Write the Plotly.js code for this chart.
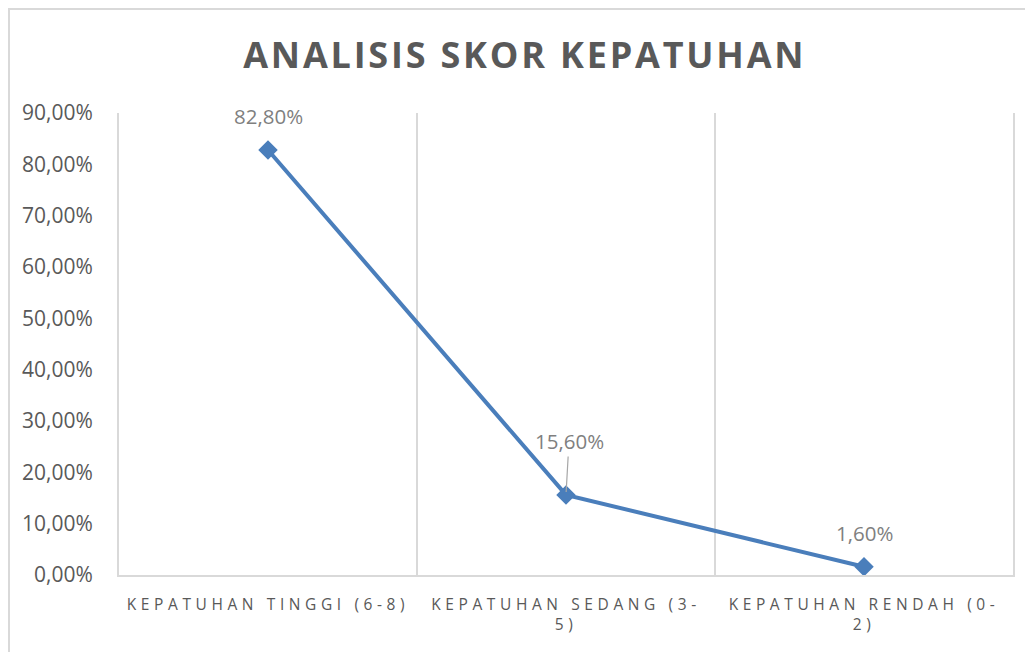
<!DOCTYPE html>
<html>
<head>
<meta charset="utf-8">
<script src="https://cdn.plot.ly/plotly-3.0.1.min.js"></script>
<style>
  html, body { margin: 0; padding: 0; background: #ffffff; overflow: hidden; width: 1025px; height: 652px; }
  #frame { position: absolute; left: 8px; top: 8px; width: 1030px; height: 660px;
           border-left: 2px solid #d9d9d9; border-top: 2px solid #d9d9d9; }
  #chart { position: absolute; left: 0; top: 0; width: 1025px; height: 652px; }
  #chart .xtick text { letter-spacing: 4.6px; }
  #chart .gtitle { letter-spacing: 2.8px; }
</style>
</head>
<body>
<div id="frame"></div>
<div id="chart"></div>
<script>
const categories = ["KEPATUHAN TINGGI (6-8)", "KEPATUHAN SEDANG (3-5)", "KEPATUHAN RENDAH (0-2)"];
const tickLabels = ["KEPATUHAN TINGGI (6-8)", "KEPATUHAN SEDANG (3-<br>5)", "KEPATUHAN RENDAH (0-<br>2)"];
const values = [0.828, 0.156, 0.016];
const valueLabels = ["82,80%", "15,60%", "1,60%"];
const yTicks = [0, 0.1, 0.2, 0.3, 0.4, 0.5, 0.6, 0.7, 0.8, 0.9];

const FONT = "Open Sans, Lato, sans-serif";

const trace = {
  type: "scatter",
  mode: "lines+markers",
  x: categories,
  y: values,
  line: { color: "#4A7EBB", width: 4 },
  marker: { symbol: "diamond", size: 15, color: "#4A7EBB" },
  hoverinfo: "skip",
  cliponaxis: false
};

const annotations = categories.map((c, i) => {
  const leader = (i === 1);
  return {
    x: c, y: values[i], xref: "x", yref: "y",
    text: valueLabels[i],
    showarrow: leader,
    arrowhead: 0, arrowwidth: 1.2, arrowcolor: "#a6a6a6", standoff: 3,
    ax: leader ? 3 : 0, ay: leader ? -54 : 0,
    yshift: leader ? 0 : 34,
    font: { family: FONT, size: 20.5, color: "#7f7f7f" }
  };
});

const layout = {
  width: 1025, height: 652,
  margin: { l: 119, r: 12, t: 113, b: 77 },
  paper_bgcolor: "rgba(0,0,0,0)",
  plot_bgcolor: "rgba(0,0,0,0)",
  separators: ",.",
  showlegend: false,
  title: {
    text: "<b>ANALISIS SKOR KEPATUHAN</b>",
    x: 0.512, xref: "container", xanchor: "center",
    y: 0.915, yref: "container", yanchor: "middle",
    font: { family: FONT, size: 36, color: "#595959" }
  },
  xaxis: {
    type: "category",
    range: [-0.5, 2.5],
    tickvals: categories,
    ticktext: tickLabels,
    tickson: "boundaries",
    showgrid: true, gridcolor: "#d9d9d9", gridwidth: 2,
    showline: true, linecolor: "#d9d9d9", linewidth: 2, mirror: false,
    ticks: "", ticklen: 0,
    ticklabelstandoff: 14,
    tickfont: { family: FONT, size: 15.5, color: "#595959" },
    automargin: false,
    fixedrange: true
  },
  yaxis: {
    range: [0, 0.9],
    tickvals: yTicks,
    tickformat: ".2%",
    showgrid: false,
    zeroline: false,
    showline: true, linecolor: "#d9d9d9", linewidth: 2, mirror: true,
    ticks: "", ticklen: 0,
    ticklabelstandoff: 20,
    tickfont: { family: FONT, size: 21, color: "#595959" },
    automargin: false,
    fixedrange: true
  },
  annotations: annotations
};

Plotly.newPlot("chart", [trace], layout, { displayModeBar: false, staticPlot: true });
</script>
</body>
</html>
